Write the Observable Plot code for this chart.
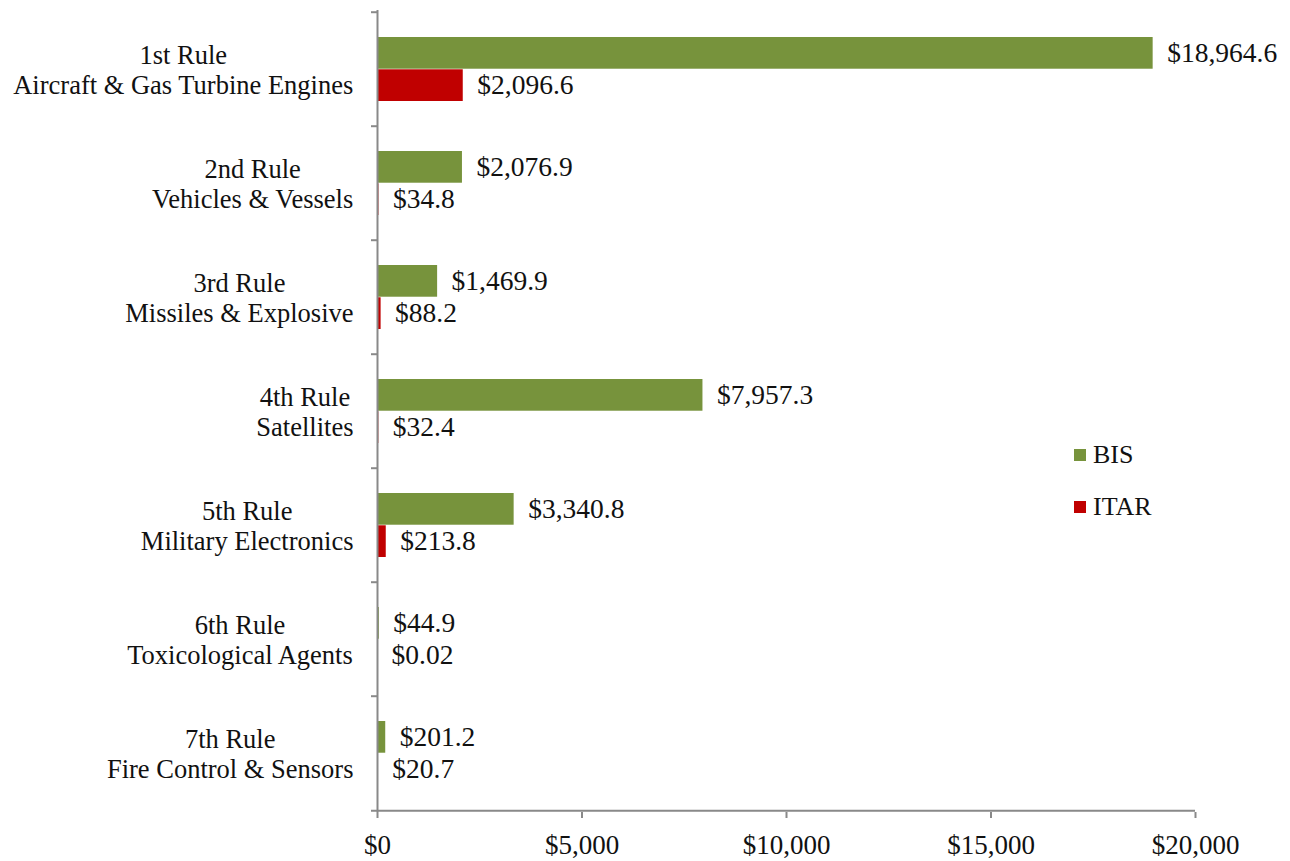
<!DOCTYPE html>
<html>
<head>
<meta charset="utf-8">
<script src="https://cdn.jsdelivr.net/npm/d3@7"></script>
<script src="https://cdn.jsdelivr.net/npm/@observablehq/plot@0.6"></script>
<style>
  html, body { margin: 0; padding: 0; background: #fff; }
  #wrap { position: relative; width: 1290px; height: 861px; font-family: "Liberation Serif", "Times New Roman", serif; }
  .legend { position: absolute; left: 1074px; font-size: 26px; color: #111; display: flex; align-items: center; }
  .legend .sw { width: 12px; height: 12px; margin-right: 7px; }
</style>
</head>
<body>
<div id="wrap"></div>
<script>
const ruleNames = ["1st Rule", "2nd Rule", "3rd Rule", "4th Rule", "5th Rule", "6th Rule", "7th Rule"];
const groupNames = ["Aircraft & Gas Turbine Engines", "Vehicles & Vessels", "Missiles & Explosive", "Satellites", "Military Electronics", "Toxicological Agents", "Fire Control & Sensors"];
const bisValues = [18964.6, 2076.9, 1469.9, 7957.3, 3340.8, 44.9, 201.2];
const itarValues = [2096.6, 34.8, 88.2, 32.4, 213.8, 0.02, 20.7];
const seriesNames = ["BIS", "ITAR"];
const seriesColors = ["#77933C", "#C00000"];
const xTicks = [0, 5000, 10000, 15000, 20000];

const bis = ruleNames.map((r, i) => ({rule: r, value: bisValues[i]}));
const itar = ruleNames.map((r, i) => ({rule: r, value: itarValues[i]}));
const groupOf = Object.fromEntries(ruleNames.map((r, i) => [r, groupNames[i]]));
const fmt = d => "$" + (d < 1 ? d.toFixed(2) : d3.format(",.1f")(d));

const W = 1290, H = 861, mTop = 10, mBottom = 49, mLeft = 377, mRight = 95;
const band = (H - mTop - mBottom) / ruleNames.length;
const half = band / 2;
const pad = 25;
const axisGray = "#898989";
const textColor = "#111";
const fontFamily = '"Liberation Serif", "Times New Roman", serif';
const catSize = 26.5;

// measure label blocks so both lines can be centred on each other, block right-aligned
const ctx = document.createElement("canvas").getContext("2d");
ctx.font = `${catSize}px ${fontFamily}`;
const blockWidth = r => Math.max(ctx.measureText(r).width, ctx.measureText(groupOf[r]).width);

const categoryLabels = ruleNames.map(r => Plot.text([r], {
  y: d => d,
  frameAnchor: "left",
  text: d => d + "\n" + groupOf[d],
  textAnchor: "middle",
  lineHeight: 1.13,
  dx: -24 - blockWidth(r) / 2,
  fill: textColor,
  fontSize: catSize
}));

const plot = Plot.plot({
  width: W,
  height: H,
  marginLeft: mLeft,
  marginRight: mRight,
  marginTop: mTop,
  marginBottom: mBottom,
  style: {fontFamily, fontSize: catSize + "px", color: textColor, background: "white"},
  x: {domain: [0, 20000], label: null},
  y: {domain: ruleNames, padding: 0, label: null, axis: null},
  marks: [
    Plot.barX(bis, {x: "value", y: "rule", fill: seriesColors[0], insetTop: pad, insetBottom: half}),
    Plot.barX(itar, {x: "value", y: "rule", fill: seriesColors[1], insetTop: half, insetBottom: pad}),
    Plot.text(bis, {x: "value", y: "rule", text: d => fmt(d.value), textAnchor: "start", dx: 14, dy: -(half - pad) / 2, fill: textColor, fontSize: 27.5}),
    Plot.text(itar, {x: "value", y: "rule", text: d => fmt(d.value), textAnchor: "start", dx: 14, dy: (half - pad) / 2, fill: textColor, fontSize: 27.5}),
    Plot.ruleX([0], {stroke: axisGray, strokeWidth: 2}),
    Plot.ruleY(ruleNames, {y: d => d, dy: -half, stroke: axisGray, strokeWidth: 2, insetLeft: -6, insetRight: W - mLeft - mRight}),
    Plot.ruleY(ruleNames.slice(-1), {y: d => d, dy: half, stroke: axisGray, strokeWidth: 2, insetLeft: -6}),
    ...categoryLabels,
    Plot.axisX({ticks: xTicks, tickFormat: d => "$" + d3.format(",")(d), tickSize: 6, tickPadding: 16, stroke: axisGray, strokeWidth: 2, fill: textColor, label: null, fontSize: 27})
  ]
});
const wrap = document.getElementById("wrap");
wrap.appendChild(plot);

const legendTops = [440, 492];
seriesNames.forEach((name, i) => {
  const el = document.createElement("div");
  el.className = "legend";
  el.style.top = legendTops[i] + "px";
  el.innerHTML = `<span class="sw" style="background:${seriesColors[i]}"></span><span>${name}</span>`;
  wrap.appendChild(el);
});
</script>
</body>
</html>
